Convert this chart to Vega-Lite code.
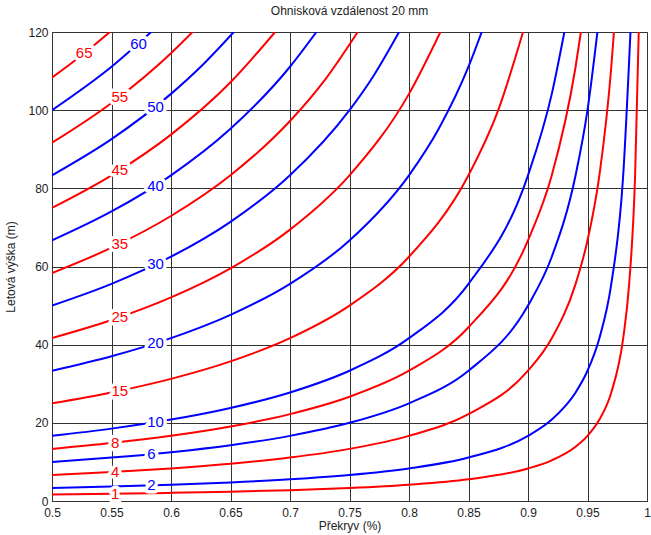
{
  "$schema": "https://vega.github.io/schema/vega-lite/v6.json",
  "width": 595,
  "height": 469,
  "autosize": "none",
  "padding": {"left": 52, "top": 32, "right": 4, "bottom": 34},
  "title": {"text": "Ohnisková vzdálenost 20 mm", "font": "Liberation Sans", "fontSize": 12, "fontWeight": "normal", "color": "#222", "offset": 8},
  "config": {
    "view": {"stroke": "#777", "strokeWidth": 1},
    "font": "Liberation Sans"
  },
  "datasets": {
    "lines": [
      {"level":1,"x":0.5,"y":1.6667},{"level":1,"x":0.55,"y":1.8519},{"level":1,"x":0.6,"y":2.0833},{"level":1,"x":0.65,"y":2.381},{"level":1,"x":0.7,"y":2.7778},{"level":1,"x":0.75,"y":3.3333},{"level":1,"x":0.8,"y":4.1667},{"level":1,"x":0.85,"y":5.5556},{"level":1,"x":0.9,"y":8.3333},{"level":1,"x":0.92,"y":10.417},{"level":1,"x":0.94,"y":13.889},{"level":1,"x":0.95,"y":16.667},{"level":1,"x":0.96,"y":20.833},{"level":1,"x":0.97,"y":27.778},{"level":1,"x":0.98,"y":41.667},{"level":1,"x":0.985,"y":55.556},{"level":1,"x":0.99,"y":83.333},{"level":1,"x":0.99306,"y":120},
      {"level":2,"x":0.5,"y":3.3333},{"level":2,"x":0.55,"y":3.7037},{"level":2,"x":0.6,"y":4.1667},{"level":2,"x":0.65,"y":4.7619},{"level":2,"x":0.7,"y":5.5556},{"level":2,"x":0.75,"y":6.6667},{"level":2,"x":0.8,"y":8.3333},{"level":2,"x":0.85,"y":11.111},{"level":2,"x":0.9,"y":16.667},{"level":2,"x":0.92,"y":20.833},{"level":2,"x":0.94,"y":27.778},{"level":2,"x":0.95,"y":33.333},{"level":2,"x":0.96,"y":41.667},{"level":2,"x":0.97,"y":55.556},{"level":2,"x":0.98,"y":83.333},{"level":2,"x":0.98611,"y":120},
      {"level":4,"x":0.5,"y":6.6667},{"level":4,"x":0.55,"y":7.4074},{"level":4,"x":0.6,"y":8.3333},{"level":4,"x":0.65,"y":9.5238},{"level":4,"x":0.7,"y":11.111},{"level":4,"x":0.75,"y":13.333},{"level":4,"x":0.8,"y":16.667},{"level":4,"x":0.85,"y":22.222},{"level":4,"x":0.9,"y":33.333},{"level":4,"x":0.92,"y":41.667},{"level":4,"x":0.94,"y":55.556},{"level":4,"x":0.95,"y":66.667},{"level":4,"x":0.96,"y":83.333},{"level":4,"x":0.97,"y":111.11},{"level":4,"x":0.97222,"y":120},
      {"level":6,"x":0.5,"y":10},{"level":6,"x":0.55,"y":11.111},{"level":6,"x":0.6,"y":12.5},{"level":6,"x":0.65,"y":14.286},{"level":6,"x":0.7,"y":16.667},{"level":6,"x":0.75,"y":20},{"level":6,"x":0.8,"y":25},{"level":6,"x":0.85,"y":33.333},{"level":6,"x":0.9,"y":50},{"level":6,"x":0.92,"y":62.5},{"level":6,"x":0.94,"y":83.333},{"level":6,"x":0.95,"y":100},{"level":6,"x":0.95833,"y":120},
      {"level":8,"x":0.5,"y":13.333},{"level":8,"x":0.55,"y":14.815},{"level":8,"x":0.6,"y":16.667},{"level":8,"x":0.65,"y":19.048},{"level":8,"x":0.7,"y":22.222},{"level":8,"x":0.75,"y":26.667},{"level":8,"x":0.8,"y":33.333},{"level":8,"x":0.85,"y":44.444},{"level":8,"x":0.9,"y":66.667},{"level":8,"x":0.92,"y":83.333},{"level":8,"x":0.94,"y":111.11},{"level":8,"x":0.94444,"y":120},
      {"level":10,"x":0.5,"y":16.667},{"level":10,"x":0.55,"y":18.519},{"level":10,"x":0.6,"y":20.833},{"level":10,"x":0.65,"y":23.81},{"level":10,"x":0.7,"y":27.778},{"level":10,"x":0.75,"y":33.333},{"level":10,"x":0.8,"y":41.667},{"level":10,"x":0.85,"y":55.556},{"level":10,"x":0.9,"y":83.333},{"level":10,"x":0.92,"y":104.17},{"level":10,"x":0.93056,"y":120},
      {"level":15,"x":0.5,"y":25},{"level":15,"x":0.55,"y":27.778},{"level":15,"x":0.6,"y":31.25},{"level":15,"x":0.65,"y":35.714},{"level":15,"x":0.7,"y":41.667},{"level":15,"x":0.75,"y":50},{"level":15,"x":0.8,"y":62.5},{"level":15,"x":0.85,"y":83.333},{"level":15,"x":0.875,"y":100},{"level":15,"x":0.89583,"y":120},
      {"level":20,"x":0.5,"y":33.333},{"level":20,"x":0.55,"y":37.037},{"level":20,"x":0.6,"y":41.667},{"level":20,"x":0.65,"y":47.619},{"level":20,"x":0.7,"y":55.556},{"level":20,"x":0.75,"y":66.667},{"level":20,"x":0.8,"y":83.333},{"level":20,"x":0.825,"y":95.238},{"level":20,"x":0.85,"y":111.11},{"level":20,"x":0.86111,"y":120},
      {"level":25,"x":0.5,"y":41.667},{"level":25,"x":0.55,"y":46.296},{"level":25,"x":0.6,"y":52.083},{"level":25,"x":0.65,"y":59.524},{"level":25,"x":0.7,"y":69.444},{"level":25,"x":0.75,"y":83.333},{"level":25,"x":0.8,"y":104.17},{"level":25,"x":0.82639,"y":120},
      {"level":30,"x":0.5,"y":50},{"level":30,"x":0.55,"y":55.556},{"level":30,"x":0.6,"y":62.5},{"level":30,"x":0.65,"y":71.429},{"level":30,"x":0.7,"y":83.333},{"level":30,"x":0.75,"y":100},{"level":30,"x":0.77,"y":108.7},{"level":30,"x":0.79167,"y":120},
      {"level":35,"x":0.5,"y":58.333},{"level":35,"x":0.55,"y":64.815},{"level":35,"x":0.6,"y":72.917},{"level":35,"x":0.65,"y":83.333},{"level":35,"x":0.7,"y":97.222},{"level":35,"x":0.73,"y":108.02},{"level":35,"x":0.75694,"y":120},
      {"level":40,"x":0.5,"y":66.667},{"level":40,"x":0.55,"y":74.074},{"level":40,"x":0.6,"y":83.333},{"level":40,"x":0.65,"y":95.238},{"level":40,"x":0.7,"y":111.11},{"level":40,"x":0.72222,"y":120},
      {"level":45,"x":0.5,"y":75},{"level":45,"x":0.55,"y":83.333},{"level":45,"x":0.6,"y":93.75},{"level":45,"x":0.65,"y":107.14},{"level":45,"x":0.6875,"y":120},
      {"level":50,"x":0.5,"y":83.333},{"level":50,"x":0.55,"y":92.593},{"level":50,"x":0.6,"y":104.17},{"level":50,"x":0.625,"y":111.11},{"level":50,"x":0.65278,"y":120},
      {"level":55,"x":0.5,"y":91.667},{"level":55,"x":0.55,"y":101.85},{"level":55,"x":0.6,"y":114.58},{"level":55,"x":0.61806,"y":120},
      {"level":60,"x":0.5,"y":100},{"level":60,"x":0.55,"y":111.11},{"level":60,"x":0.58333,"y":120},
      {"level":65,"x":0.5,"y":108.33},{"level":65,"x":0.525,"y":114.04},{"level":65,"x":0.54861,"y":120}
    ],
    "labels": [
      {"level":1,"x":0.553,"y":1.864},
      {"level":2,"x":0.5836,"y":4.003},
      {"level":4,"x":0.553,"y":7.457},
      {"level":6,"x":0.5836,"y":12.01},
      {"level":8,"x":0.553,"y":14.914},
      {"level":10,"x":0.587,"y":20.18},
      {"level":15,"x":0.557,"y":28.22},
      {"level":20,"x":0.587,"y":40.36},
      {"level":25,"x":0.557,"y":47.03},
      {"level":30,"x":0.587,"y":60.53},
      {"level":35,"x":0.557,"y":65.84},
      {"level":40,"x":0.587,"y":80.71},
      {"level":45,"x":0.557,"y":84.65},
      {"level":50,"x":0.587,"y":100.89},
      {"level":55,"x":0.557,"y":103.46},
      {"level":60,"x":0.5727,"y":117.0},
      {"level":65,"x":0.527,"y":114.52}
    ]
  },
  "encoding": {
    "x": {
      "field": "x", "type": "quantitative",
      "scale": {"domain": [0.5, 1], "nice": false, "zero": false},
      "axis": {
        "title": "Překryv (%)",
        "values": [0.5,0.55,0.6,0.65,0.7,0.75,0.8,0.85,0.9,0.95,1],
        "format": "~g",
        "grid": true, "gridColor": "#333", "gridOpacity": 1, "gridWidth": 1,
        "ticks": false, "domain": true, "domainColor": "#333", "domainWidth": 1,
        "labelFontSize": 12, "labelColor": "#222", "labelPadding": 6, "labelFlush": false,
        "titleFontSize": 12, "titleFontWeight": "normal", "titleColor": "#222", "titlePadding": 2
      }
    },
    "y": {
      "field": "y", "type": "quantitative",
      "scale": {"domain": [0, 120], "nice": false},
      "axis": {
        "title": "Letová výška (m)",
        "values": [0,20,40,60,80,100,120],
        "grid": true, "gridColor": "#333", "gridOpacity": 1, "gridWidth": 1,
        "ticks": false, "domain": true, "domainColor": "#333", "domainWidth": 1,
        "labelFontSize": 12, "labelColor": "#222", "labelPadding": 4, "labelFlush": false,
        "titleFontSize": 12, "titleFontWeight": "normal", "titleColor": "#222", "titlePadding": 10
      }
    }
  },
  "layer": [
    {
      "data": {"name": "lines"},
      "mark": {"type": "line", "interpolate": "monotone", "strokeWidth": 2, "clip": true},
      "encoding": {
        "color": {
          "field": "level", "type": "nominal",
          "scale": {"domain": [1,2,4,6,8,10,15,20,25,30,35,40,45,50,55,60,65],
                    "range": ["#ff0000","#0000ff","#ff0000","#0000ff","#ff0000","#0000ff","#ff0000","#0000ff","#ff0000","#0000ff","#ff0000","#0000ff","#ff0000","#0000ff","#ff0000","#0000ff","#ff0000"]},
          "legend": null
        }
      }
    },
    {
      "data": {"name": "labels"},
      "mark": {"type": "text", "fontSize": 15, "font": "Liberation Sans", "fill": "white", "stroke": "white", "strokeWidth": 7, "strokeJoin": "round", "align": "center", "baseline": "middle"},
      "encoding": {"text": {"field": "level", "type": "nominal"}}
    },
    {
      "data": {"name": "labels"},
      "mark": {"type": "text", "fontSize": 15, "font": "Liberation Sans", "align": "center", "baseline": "middle"},
      "encoding": {
        "text": {"field": "level", "type": "nominal"},
        "color": {"field": "level", "type": "nominal", "legend": null}
      }
    }
  ]
}
